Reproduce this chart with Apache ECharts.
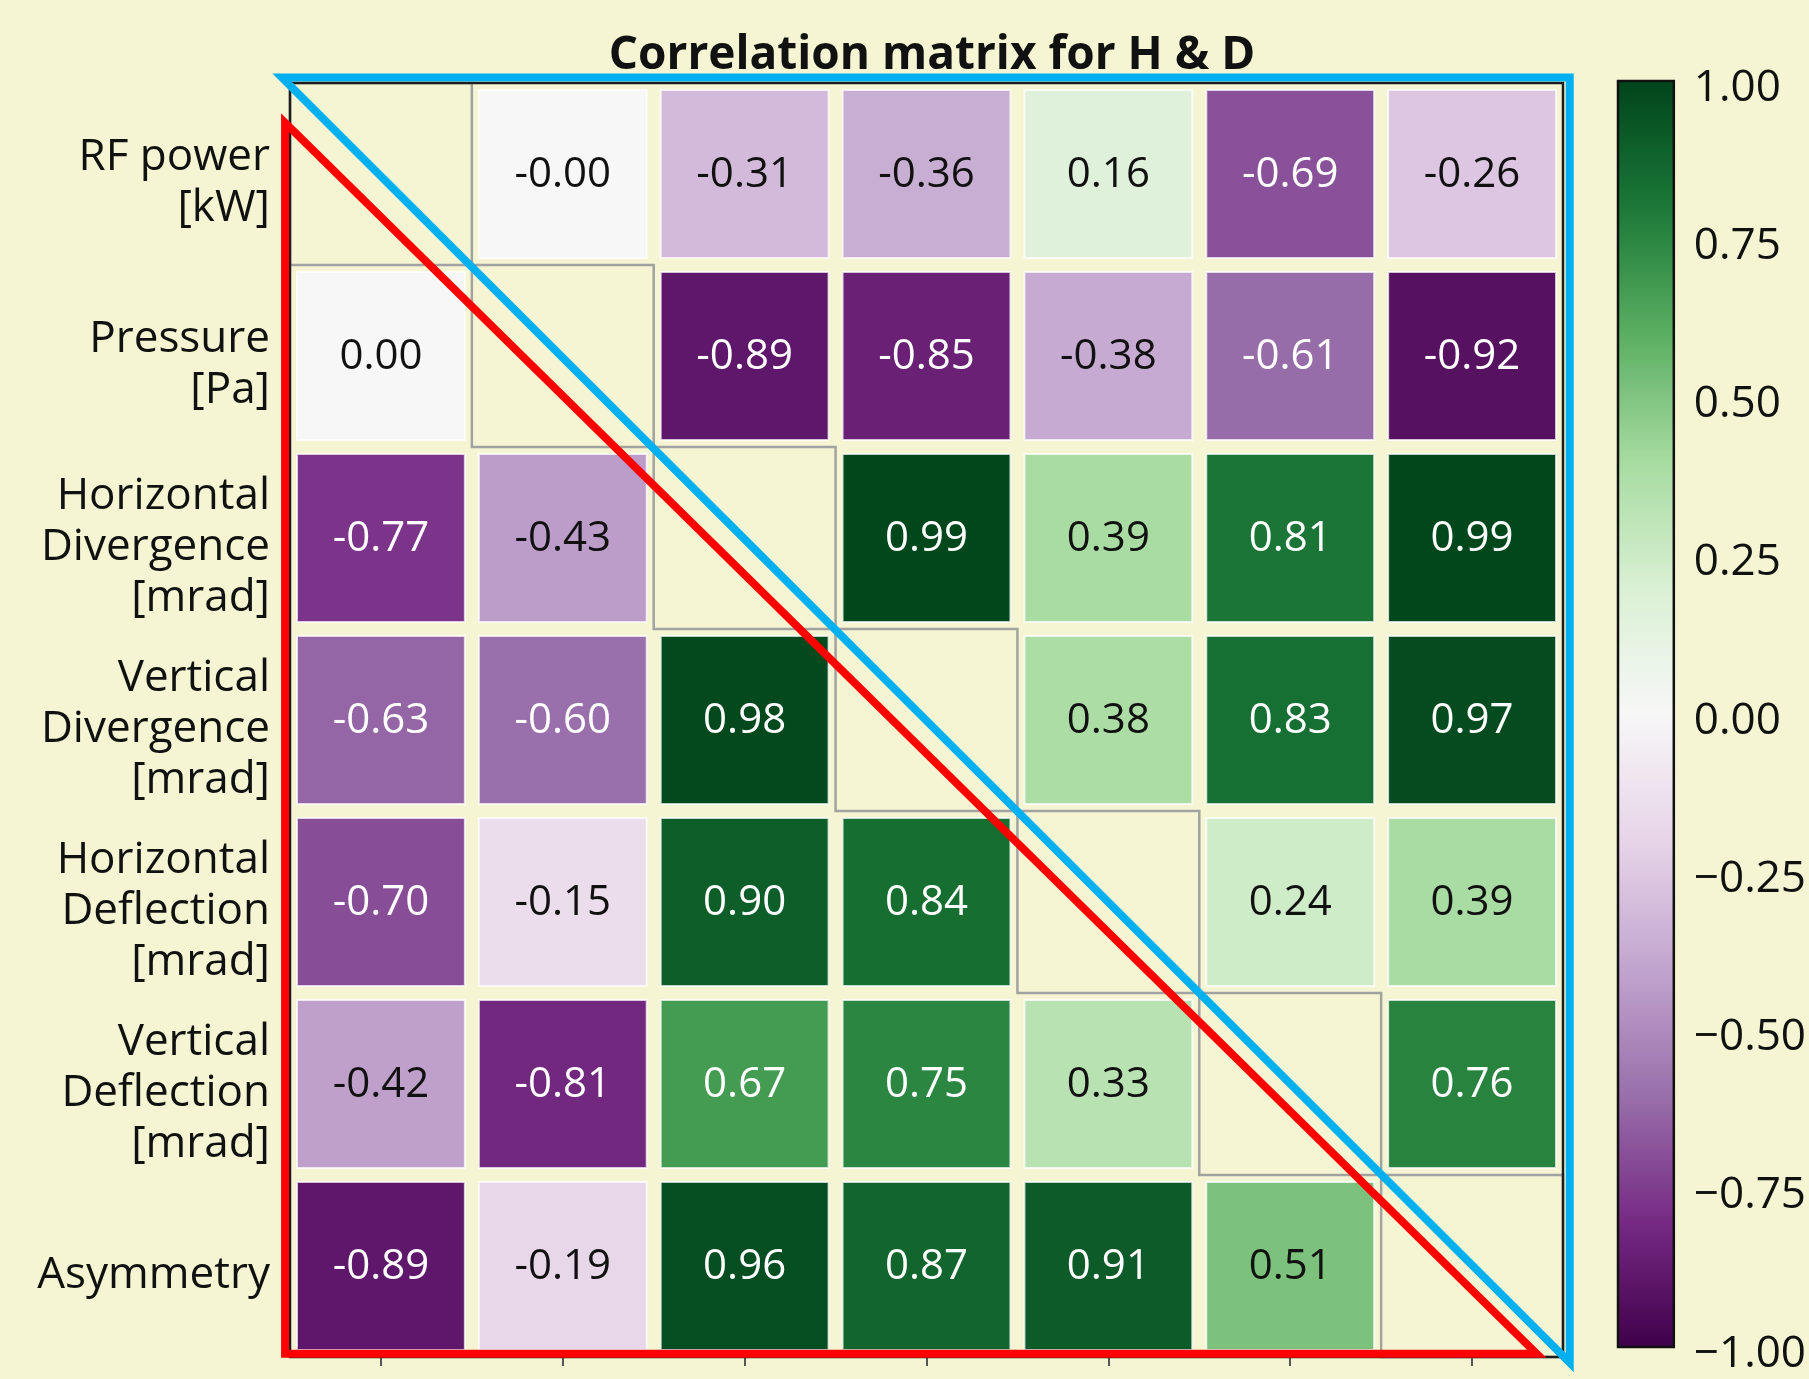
<!DOCTYPE html>
<html>
<head>
<meta charset="utf-8">
<title>Correlation matrix for H &amp; D</title>
<script src="https://cdn.jsdelivr.net/npm/echarts@6/dist/echarts.min.js"></script>
<style>
  html, body { margin: 0; padding: 0; background: #f5f5d3; }
  #chart { width: 1809px; height: 1379px; }
</style>
</head>
<body>
<div id="chart"></div>
<script>
// Variables of the correlation matrix (row/column order)
const variables = [
  'RF power\n[kW]',
  'Pressure\n[Pa]',
  'Horizontal\nDivergence\n[mrad]',
  'Vertical\nDivergence\n[mrad]',
  'Horizontal\nDeflection\n[mrad]',
  'Vertical\nDeflection\n[mrad]',
  'Asymmetry'
];

// Correlation coefficients, one array per row (null = diagonal)
const rowRfPower      = [null, -0.00, -0.31, -0.36,  0.16, -0.69, -0.26];
const rowPressure     = [0.00,  null, -0.89, -0.85, -0.38, -0.61, -0.92];
const rowHorizDiv     = [-0.77, -0.43, null,  0.99,  0.39,  0.81,  0.99];
const rowVertDiv      = [-0.63, -0.60, 0.98,  null,  0.38,  0.83,  0.97];
const rowHorizDefl    = [-0.70, -0.15, 0.90,  0.84,  null,  0.24,  0.39];
const rowVertDefl     = [-0.42, -0.81, 0.67,  0.75,  0.33,  null,  0.76];
const rowAsymmetry    = [-0.89, -0.19, 0.96,  0.87,  0.91,  0.51,  null];

// Colour scale (PRGn) and colourbar ticks
const colorStops = ['#40004b', '#762a83', '#9970ab', '#c2a5cf', '#e7d4e8', '#f7f7f7',
                    '#d9f0d3', '#a6dba0', '#5aae61', '#1b7837', '#00441b'];
const colorbarRange = [-1, 1];
const colorbarInterval = 0.25;

// Highlight outlines, vertices in cell units from the matrix's top-left corner
const upperOutline = [[-0.044, -0.030], [7.037, -0.030], [7.037, 7.031]];
const lowerOutline = [[-0.027, 0.218], [-0.027, 6.982], [6.855, 6.982]];

const rows = [rowRfPower, rowPressure, rowHorizDiv, rowVertDiv, rowHorizDefl, rowVertDefl, rowAsymmetry];

const BG = '#f5f5d3';
const FONT = '"Open Sans", "Noto Sans", sans-serif';

// Build cell lists
const cells = [];
const cellValues = [];
const diagCells = [];
rows.forEach((row, r) => {
  row.forEach((v, c) => {
    if (v === null) { diagCells.push([c, r]); return; }
    cells.push([c, r, v]);
    cellValues.push(v);
  });
});

function fmtCell(v) {
  const neg = v < 0 || Object.is(v, -0);
  return (neg ? '-' : '') + Math.abs(v).toFixed(2);
}
function fmtTick(v) {
  return '{gap| }\n' + (v < 0 ? '\u2212' : '') + Math.abs(v).toFixed(2);
}

const chart = echarts.init(document.getElementById('chart'), null, { renderer: 'canvas' });

const option = {
  backgroundColor: BG,
  animation: false,
  title: {
    text: 'Correlation matrix for H & D',
    left: 927,
    top: 28,
    textAlign: 'center',
    textStyle: { fontFamily: FONT, fontSize: 46, fontWeight: 'bold', color: '#111' }
  },
  grid: [
    { left: 290, top: 83, width: 1273, height: 1274, show: false },
    { left: 1618, top: 81, width: 65, height: 1280, show: false }
  ],
  xAxis: [
    {
      type: 'category', gridIndex: 0, data: variables, position: 'bottom',
      axisLine: { show: false },
      axisTick: { show: true, alignWithLabel: true, length: 9, lineStyle: { color: '#555', width: 2 } },
      axisLabel: { show: false },
      splitLine: { show: false }
    },
    { type: 'value', gridIndex: 1, min: 0, max: 1, show: false }
  ],
  yAxis: [
    {
      type: 'category', gridIndex: 0, data: variables, inverse: true,
      axisLine: { show: false },
      axisTick: { show: true, alignWithLabel: true, length: 6, lineStyle: { color: '#555', width: 2 } },
      axisLabel: {
        margin: 20, fontFamily: FONT, fontSize: 44, lineHeight: 51, color: '#111', align: 'right',
        formatter: label => '{gap| }\n' + label,
        rich: { gap: { lineHeight: 18, fontSize: 10 } }
      },
      splitLine: { show: false }
    },
    {
      type: 'value', gridIndex: 1, position: 'right',
      min: colorbarRange[0], max: colorbarRange[1], interval: colorbarInterval,
      axisLine: { show: false },
      axisTick: { show: true, length: 8, lineStyle: { color: '#444', width: 2 } },
      axisLabel: {
        margin: 20, fontFamily: FONT, fontSize: 44, lineHeight: 50, color: '#111',
        formatter: fmtTick,
        rich: { gap: { lineHeight: 14, fontSize: 10 } }
      },
      splitLine: { show: false }
    }
  ],
  visualMap: {
    show: false, type: 'continuous', seriesIndex: 0, dimension: 2,
    min: colorbarRange[0], max: colorbarRange[1],
    inRange: { color: colorStops }
  },
  series: [
    {
      // coloured correlation cells
      type: 'custom', xAxisIndex: 0, yAxisIndex: 0,
      data: cells,
      renderItem: function (params, api) {
        const c = api.coord([api.value(0), api.value(1)]);
        const s = api.size([1, 1]);
        const inset = 7;
        const v = cellValues[params.dataIndex];
        const light = Math.abs(v) >= 0.55;
        return {
          type: 'group',
          children: [
            {
              type: 'rect',
              shape: { x: c[0] - s[0] / 2 + inset, y: c[1] - s[1] / 2 + inset, width: s[0] - 2 * inset, height: s[1] - 2 * inset },
              style: { fill: api.visual('color'), stroke: 'rgba(255,255,255,0.75)', lineWidth: 2 }
            },
            {
              type: 'text',
              style: {
                text: fmtCell(v), x: c[0], y: c[1] + 1,
                align: 'center', verticalAlign: 'middle',
                fill: light ? '#ffffff' : '#111111',
                fontFamily: FONT, fontSize: 42
              }
            }
          ]
        };
      }
    },
    {
      // empty diagonal cells
      type: 'custom', xAxisIndex: 0, yAxisIndex: 0,
      data: diagCells,
      renderItem: function (params, api) {
        const c = api.coord([api.value(0), api.value(1)]);
        const s = api.size([1, 1]);
        return {
          type: 'rect',
          shape: { x: c[0] - s[0] / 2, y: c[1] - s[1] / 2, width: s[0], height: s[1] },
          style: { fill: BG, stroke: '#a2a2a2', lineWidth: 2.5 }
        };
      }
    },
    {
      // colourbar
      type: 'custom', xAxisIndex: 1, yAxisIndex: 1,
      data: [[0, colorbarRange[1]]],
      renderItem: function (params, api) {
        const top = api.coord([0, colorbarRange[1]]);
        const bottom = api.coord([1, colorbarRange[0]]);
        const stops = colorStops.slice().reverse().map((col, i) => ({ offset: i / (colorStops.length - 1), color: col }));
        return {
          type: 'rect',
          shape: { x: top[0], y: top[1], width: bottom[0] - top[0], height: bottom[1] - top[1] },
          style: {
            fill: new echarts.graphic.LinearGradient(0, 0, 0, 1, stops),
            stroke: '#111', lineWidth: 2.5
          }
        };
      }
    }
  ]
};

chart.setOption(option);

// Frame of the matrix and the highlight triangles, placed from the axes
const p0 = chart.convertToPixel({ gridIndex: 0 }, [0, 0]);
const p1 = chart.convertToPixel({ gridIndex: 0 }, [1, 1]);
const cw = p1[0] - p0[0];
const ch = p1[1] - p0[1];
const ox = p0[0] - cw / 2;
const oy = p0[1] - ch / 2;
const n = variables.length;
const toPx = pt => [ox + pt[0] * cw, oy + pt[1] * ch];

chart.setOption({
  graphic: [
    {
      type: 'rect', z: 50, silent: true,
      shape: { x: ox, y: oy, width: cw * n, height: ch * n },
      style: { fill: null, stroke: '#1c1c1c', lineWidth: 2.5 }
    },
    {
      type: 'polygon', z: 60, silent: true,
      shape: { points: upperOutline.map(toPx) },
      style: { fill: null, stroke: '#00b0f0', lineWidth: 8, lineJoin: 'miter', miterLimit: 10 }
    },
    {
      type: 'polygon', z: 61, silent: true,
      shape: { points: lowerOutline.map(toPx) },
      style: { fill: null, stroke: '#ff0000', lineWidth: 8, lineJoin: 'miter', miterLimit: 10 }
    }
  ]
});
</script>
</body>
</html>
